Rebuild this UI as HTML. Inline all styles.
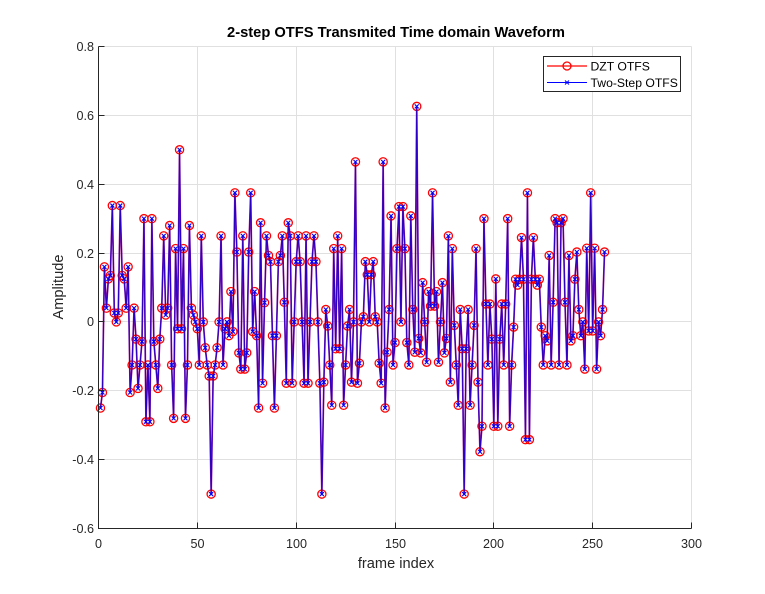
<!DOCTYPE html>
<html lang="en">
<head>
<meta charset="utf-8">
<title>2-step OTFS Transmited Time domain Waveform</title>
<style>
html,body{margin:0;padding:0;background:#fff;width:765px;height:594px;overflow:hidden}
svg{display:block;font-family:"Liberation Sans",Arial,sans-serif}
</style>
</head>
<body>
<svg id="chart" xmlns="http://www.w3.org/2000/svg" width="765" height="594" viewBox="0 0 765 594">
<rect x="0" y="0" width="765" height="594" fill="#ffffff"/>
<g id="grid"></g>
<g id="series-dzt"></g>
<g id="series-two"></g>
<g id="axes"></g>
<text x="396" y="37" text-anchor="middle" font-size="14.7" font-weight="bold" fill="#000">2-step OTFS Transmited Time domain Waveform</text>
<text x="396" y="568" text-anchor="middle" font-size="14.6" fill="#262626">frame index</text>
<text transform="translate(63,287) rotate(-90)" text-anchor="middle" font-size="14.6" fill="#262626">Amplitude</text>
<g>
<rect x="543.5" y="56.5" width="137" height="35" fill="#fff" stroke="#262626" stroke-width="1"/>
<line x1="547" y1="66" x2="587" y2="66" stroke="#ff0000" stroke-width="1.2"/>
<circle cx="567" cy="66" r="4" fill="none" stroke="#ff0000" stroke-width="1.3"/>
<text x="590.5" y="70.5" font-size="12.2" fill="#000">DZT OTFS</text>
<line x1="547" y1="82.5" x2="587" y2="82.5" stroke="#0000ff" stroke-width="1"/>
<path d="M565 80.5L569 84.5M565 84.5L569 80.5" stroke="#0000ff" stroke-width="1" fill="none"/>
<text x="590.5" y="87" font-size="12.2" fill="#000">Two-Step OTFS</text>
</g>
</svg>
<script>
const dztValues = [
-0.25,-0.205,0.16,0.04,0.125,0.135,0.338,0.026,0,0.026,
0.338,0.135,0.125,0.04,0.16,-0.205,-0.125,0.04,-0.05,-0.193,
-0.125,-0.057,0.30,-0.29,-0.125,-0.29,0.30,-0.057,-0.125,-0.193,
-0.05,0.04,0.25,0.02,0.04,0.28,-0.125,-0.28,0.213,-0.02,
0.5,-0.02,0.213,-0.28,-0.125,0.28,0.04,0.02,0,-0.02,
-0.125,0.25,0,-0.075,-0.125,-0.157,-0.5,-0.157,-0.125,-0.075,
0,0.25,-0.125,-0.02,0,-0.04,0.088,-0.028,0.375,0.203,
-0.09,-0.137,0.25,-0.137,-0.09,0.203,0.375,-0.028,0.088,-0.04,
-0.25,0.288,-0.178,0.056,0.25,0.193,0.175,-0.04,-0.25,-0.04,
0.175,0.193,0.25,0.057,-0.178,0.288,0.25,-0.178,0,0.175,
0.25,0.175,0,-0.178,0.25,-0.178,0,0.175,0.25,0.175,
0,-0.178,-0.5,-0.175,0.036,-0.012,-0.125,-0.242,0.213,-0.078,
0.25,-0.078,0.213,-0.242,-0.125,-0.012,0.036,-0.175,0,0.465,
-0.178,-0.12,0,0.015,0.175,0.137,0,0.137,0.175,0.015,
0,-0.12,-0.178,0.465,-0.25,-0.088,0.036,0.308,-0.125,-0.06,
0.213,0.335,0,0.335,0.213,-0.06,-0.125,0.308,0.036,-0.088,
0.626,-0.048,-0.09,0.114,0,-0.117,0.088,0.046,0.375,0.046,
0.088,-0.117,0,0.114,-0.09,-0.048,0.25,-0.175,0.213,-0.01,
-0.125,-0.242,0.036,-0.078,-0.5,-0.078,0.036,-0.242,-0.125,-0.01,
0.213,-0.175,-0.377,-0.303,0.30,0.052,-0.125,0.052,-0.05,-0.303,
0.125,-0.303,-0.05,0.052,-0.125,0.052,0.30,-0.303,-0.125,-0.015,
0.124,0.107,0.124,0.245,0.124,-0.342,0.375,-0.342,0.124,0.245,
0.124,0.107,0.124,-0.015,-0.125,-0.04,-0.055,0.193,-0.125,0.057,
0.30,0.288,-0.125,0.288,0.30,0.057,-0.125,0.193,-0.055,-0.04,
0.124,0.203,0.036,-0.04,0,-0.137,0.214,-0.026,0.375,-0.026,
0.214,-0.137,0,-0.04,0.036,0.203
];
const twoStepValues = [
-0.25,-0.205,0.16,0.04,0.125,0.135,0.338,0.026,0,0.026,
0.338,0.135,0.125,0.04,0.16,-0.205,-0.125,0.04,-0.05,-0.193,
-0.125,-0.057,0.30,-0.29,-0.125,-0.29,0.30,-0.057,-0.125,-0.193,
-0.05,0.04,0.25,0.02,0.04,0.28,-0.125,-0.28,0.213,-0.02,
0.5,-0.02,0.213,-0.28,-0.125,0.28,0.04,0.02,0,-0.02,
-0.125,0.25,0,-0.075,-0.125,-0.157,-0.5,-0.157,-0.125,-0.075,
0,0.25,-0.125,-0.02,0,-0.04,0.088,-0.028,0.375,0.203,
-0.09,-0.137,0.25,-0.137,-0.09,0.203,0.375,-0.028,0.088,-0.04,
-0.25,0.288,-0.178,0.056,0.25,0.193,0.175,-0.04,-0.25,-0.04,
0.175,0.193,0.25,0.057,-0.178,0.288,0.25,-0.178,0,0.175,
0.25,0.175,0,-0.178,0.25,-0.178,0,0.175,0.25,0.175,
0,-0.178,-0.5,-0.175,0.036,-0.012,-0.125,-0.242,0.213,-0.078,
0.25,-0.078,0.213,-0.242,-0.125,-0.012,0.036,-0.175,0,0.465,
-0.178,-0.12,0,0.015,0.175,0.137,0,0.137,0.175,0.015,
0,-0.12,-0.178,0.465,-0.25,-0.088,0.036,0.308,-0.125,-0.06,
0.213,0.335,0,0.335,0.213,-0.06,-0.125,0.308,0.036,-0.088,
0.626,-0.048,-0.09,0.114,0,-0.117,0.088,0.046,0.375,0.046,
0.088,-0.117,0,0.114,-0.09,-0.048,0.25,-0.175,0.213,-0.01,
-0.125,-0.242,0.036,-0.078,-0.5,-0.078,0.036,-0.242,-0.125,-0.01,
0.213,-0.175,-0.377,-0.303,0.30,0.052,-0.125,0.052,-0.05,-0.303,
0.125,-0.303,-0.05,0.052,-0.125,0.052,0.30,-0.303,-0.125,-0.015,
0.124,0.107,0.124,0.245,0.124,-0.342,0.375,-0.342,0.124,0.245,
0.124,0.107,0.124,-0.015,-0.125,-0.04,-0.055,0.193,-0.125,0.057,
0.30,0.288,-0.125,0.288,0.30,0.057,-0.125,0.193,-0.055,-0.04,
0.124,0.203,0.036,-0.04,0,-0.137,0.214,-0.026,0.375,-0.026,
0.214,-0.137,0,-0.04,0.036,0.203
];
const xTickLabels = ["0","50","100","150","200","250","300"];
const yTickLabels = ["-0.6","-0.4","-0.2","0","0.2","0.4","0.6","0.8"];

const NS = "http://www.w3.org/2000/svg";
const plotLeft = 98.5, plotRight = 691.5, plotTop = 46.5, plotBottom = 528.5;
const xMin = 0, xMax = 300, yMin = -0.6, yMax = 0.8;
function xScale(v){ return plotLeft + (v - xMin) / (xMax - xMin) * (plotRight - plotLeft); }
function yScale(v){ return plotBottom - (v - yMin) / (yMax - yMin) * (plotBottom - plotTop); }
function snap(p){ return Math.round(p - 0.5) + 0.5; }
function make(tag, attrs){
  const el = document.createElementNS(NS, tag);
  for (const k in attrs) el.setAttribute(k, attrs[k]);
  return el;
}
const gridG = document.getElementById("grid");
const axesG = document.getElementById("axes");

xTickLabels.forEach(function(t){
  const px = snap(xScale(Number(t)));
  const g = make("line", {x1:px, x2:px, y1:plotTop, y2:plotBottom, stroke:"#e0e0e0", "stroke-width":1});
  
  
  gridG.appendChild(g);
  const tick = make("line", {x1:px, x2:px, y1:plotBottom, y2:plotBottom - 6, stroke:"#262626", "stroke-width":1});
  
  
  axesG.appendChild(tick);
  const label = make("text", {x:px, y:548, "text-anchor":"middle", "font-size":12.6, fill:"#262626"});
  
  
  label.textContent = t;
  axesG.appendChild(label);
});
yTickLabels.forEach(function(t){
  const py = snap(yScale(Number(t)));
  const g = make("line", {x1:plotLeft, x2:plotRight, y1:py, y2:py, stroke:"#e0e0e0", "stroke-width":1});
  
  
  gridG.appendChild(g);
  const tick = make("line", {x1:plotLeft, x2:plotLeft + 6, y1:py, y2:py, stroke:"#262626", "stroke-width":1});
  
  
  axesG.appendChild(tick);
  const label = make("text", {x:94, y:py + 4.5, "text-anchor":"end", "font-size":12.6, fill:"#262626"});
  
  
  label.textContent = t;
  axesG.appendChild(label);
});
const xAxisLine = make("line", {x1:plotLeft - 0.5, x2:plotRight, y1:plotBottom, y2:plotBottom, stroke:"#262626", "stroke-width":1});


axesG.appendChild(xAxisLine);
const yAxisLine = make("line", {x1:plotLeft, x2:plotLeft, y1:plotTop, y2:plotBottom, stroke:"#262626", "stroke-width":1});


axesG.appendChild(yAxisLine);

function pathFor(values){
  return values.map(function(v, i){
    return (i ? "L" : "M") + xScale(i + 1).toFixed(2) + " " + yScale(v).toFixed(2);
  }).join("");
}
const dztG = document.getElementById("series-dzt");
const dztLine = make("path", {d:pathFor(dztValues), fill:"none", stroke:"#a01890", "stroke-width":1.7, "stroke-linejoin":"round"});


dztG.appendChild(dztLine);
dztValues.forEach(function(v, i){
  const c = make("circle", {cx:xScale(i + 1).toFixed(2), cy:yScale(v).toFixed(2), r:4.1, fill:"none", stroke:"#ff0000", "stroke-width":1.3});
  
  
  dztG.appendChild(c);
});
const twoG = document.getElementById("series-two");
const twoLine = make("path", {d:pathFor(twoStepValues), fill:"none", stroke:"#2a00c8", "stroke-width":1.1, "stroke-linejoin":"round"});


twoG.appendChild(twoLine);
twoStepValues.forEach(function(v, i){
  const px = xScale(i + 1), py = yScale(v), s = 2;
  const m = make("path", {d:"M"+(px-s).toFixed(2)+" "+(py-s).toFixed(2)+"L"+(px+s).toFixed(2)+" "+(py+s).toFixed(2)+"M"+(px-s).toFixed(2)+" "+(py+s).toFixed(2)+"L"+(px+s).toFixed(2)+" "+(py-s).toFixed(2), fill:"none", stroke:"#0000ff", "stroke-width":1.1});
  
  
  twoG.appendChild(m);
});
</script>
</body>
</html>
